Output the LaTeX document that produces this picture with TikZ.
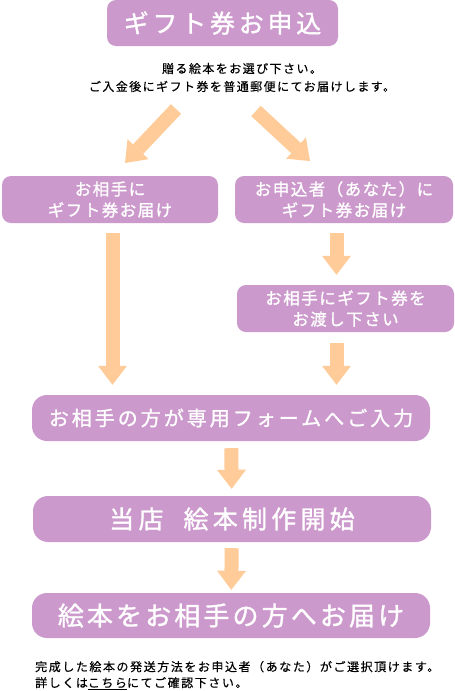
\documentclass[tikz,border=0pt]{standalone}
\usepackage{fontspec}
\setmainfont{Noto Sans CJK JP}
\usepackage{xcolor}
\usetikzlibrary{arrows.meta,positioning,calc}
\definecolor{lila}{HTML}{CC99CC}
\definecolor{melon}{HTML}{FFCC99}
\newcommand{\jpsize}[3]{\fontsize{#1}{#2}\selectfont\addfontfeature{LetterSpace=#3,FakeBold=0.4}}
\newcommand{\jpbold}[3]{\fontsize{#1}{#2}\selectfont\addfontfeature{LetterSpace=#3,FakeBold=1.2}}

\begin{document}
\begin{tikzpicture}[x=1pt,y=-1pt]
  \useasboundingbox[fill=white] (0,0) rectangle (455,691);
  \tikzstyle{box}=[fill=lila, rounded corners=9pt, text=white, inner sep=0pt, align=center, font=\jpbold{16.5}{21}{9}]
  \tikzstyle{wide}=[box, rounded corners=15pt, minimum width=398pt, minimum height=46pt]
  \tikzstyle{flow}=[melon, line width=14pt, -{Triangle[width=29pt,length=19pt,line width=0pt]}]

  % Pedido
  \node[box, minimum width=231pt, minimum height=46pt, font=\jpbold{25}{30}{15}] (order) at (222.5,23) {ギフト券お申込};
  \node[inner sep=0pt, align=center, font=\jpsize{12}{18}{12}] (note) at (242,77.5) {贈る絵本をお選び下さい。\\ご入金後にギフト券を普通郵便にてお届けします。};

  % Dos caminos
  \node[box, minimum width=216pt, minimum height=47pt] (giftL) at (110,199.5) {お相手に\\ギフト券お届け};
  \node[box, minimum width=218pt, minimum height=47pt] (giftR) at (344,199.5) {お申込者（あなた）に\\ギフト券お届け};
  \node[box, minimum width=217pt, minimum height=47pt] (hand) at (345.5,308.5) {お相手にギフト券を\\お渡し下さい};

  \coordinate (ls) at (176,109);
  \coordinate (le) at (125,163);
  \coordinate (rs) at (256,111);
  \coordinate (re) at (310,161);
  \draw[flow] (ls) -- (le);
  \draw[flow] (rs) -- (re);

  % Pasos comunes
  \node[wide, font=\jpbold{20}{24}{15}] (form) at (231,418) {お相手の方が専用フォームへご入力};
  \node[wide, font=\jpbold{25}{30}{17}] (make) at (232,519) {当店\hspace{20pt}絵本制作開始};
  \node[wide, minimum height=45pt, font=\jpbold{26}{30}{12}] (send) at (231,615.5) {絵本をお相手の方へお届け};

  \draw[flow, shorten <=10pt, shorten >=10pt] ($(giftL.south)+(2.5,0)$) -- ($(giftL.south |- form.north)+(2.5,0)$);
  \draw[flow, shorten <=10pt, shorten >=10pt] ($(giftR.south)+(-7.5,0)$) -- ($(giftR.south |- hand.north)+(-7.5,0)$);
  \draw[flow, shorten <=11pt, shorten >=10pt] ($(hand.south)+(-9,0)$) -- ($(hand.south |- form.north)+(-9,0)$);
  \draw[flow, shorten <=7pt, shorten >=7pt] (form) -- (make);
  \draw[flow, shorten <=6pt, shorten >=3pt] (make) -- (send);

  % Nota final
  \node[anchor=west, inner sep=0pt, align=left, font=\jpsize{12}{16}{13}] (info) at (35,675.5) {完成した絵本の発送方法をお申込者（あなた）がご選択頂けます。\\詳しくは\underline{こちら}にてご確認下さい。};
\end{tikzpicture}
\end{document}
